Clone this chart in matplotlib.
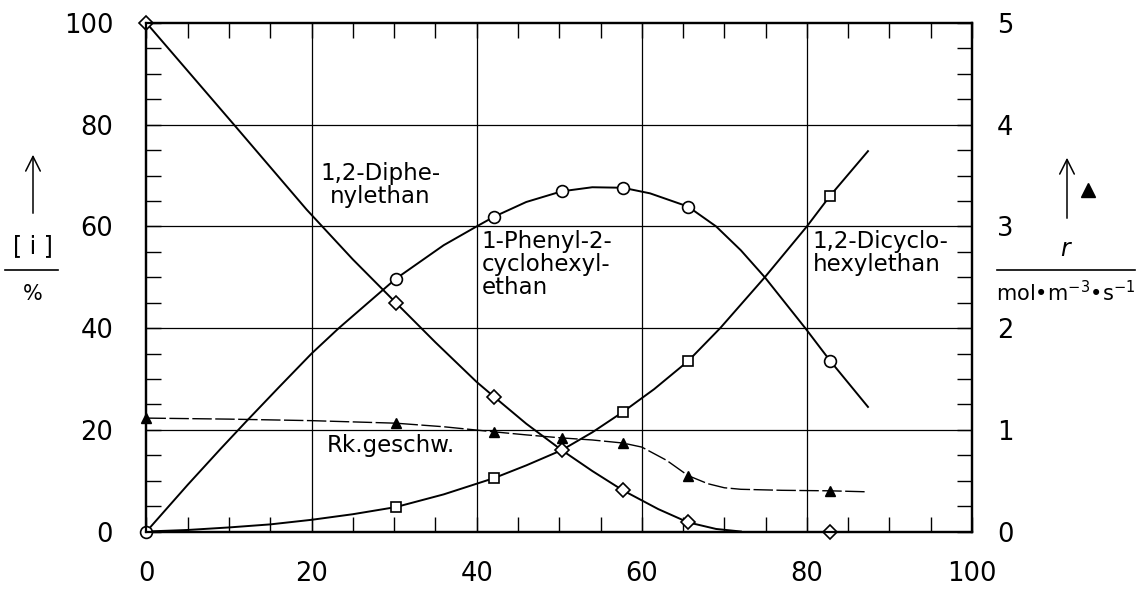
import matplotlib
matplotlib.use("Agg")
import matplotlib.pyplot as plt
from matplotlib.lines import Line2D
from matplotlib.patches import FancyArrowPatch
from matplotlib.ticker import MultipleLocator

# --- Messpunkte ---
umsatz = [0, 30.2, 42.1, 50.3, 57.7, 65.6, 82.8]

diphenyl = [100, 45.0, 26.5, 16.0, 8.1, 1.8, 0]              # Rauten
phenyl_cyclohexyl = [0, 49.7, 61.9, 66.9, 67.6, 63.9, 33.6]  # Kreise
rk_geschw = [1.115, 1.065, 0.98, 0.92, 0.87, 0.545, 0.40]    # Dreiecke (rechte Achse)

umsatz_quadrat = [30.2, 42.1, 57.7, 65.6, 82.8]
dicyclohexyl = [4.8, 10.5, 23.5, 33.5, 66.0]                 # Quadrate

kurve_diphenyl_x = [0, 10.6, 19.4, 25, 30.2, 35, 40, 42.1, 46, 50.3, 54, 57.7, 62, 65.6, 69, 72]
kurve_diphenyl_y = [100, 80, 63.3, 53.5, 45.0, 37.2, 29.4, 26.5, 21.2, 16.0, 11.9, 8.1, 4.4, 1.8, 0.5, 0]

kurve_phenyl_x = [0, 5, 9, 12, 16, 20, 23.3, 30.2, 36, 40, 42.1, 46, 50.3, 54, 57.7, 61, 65.6, 69.0, 72, 74.9, 79.8, 82.8, 87.4]
kurve_phenyl_y = [0, 9.2, 16.3, 21.5, 28.3, 35.0, 40, 49.7, 56.3, 60, 61.9, 64.8, 66.9, 67.7, 67.6, 66.5, 63.9, 60, 55.3, 50, 40, 33.6, 24.5]

kurve_dicyclo_x = [0, 5, 10, 15, 20, 25, 30.2, 36, 42.1, 46, 50.3, 54, 57.7, 61.5, 65.6, 69.5, 74.9, 80, 82.8, 87.4]
kurve_dicyclo_y = [0, 0.3, 0.8, 1.4, 2.3, 3.4, 4.8, 7.3, 10.5, 13.0, 16.0, 19.5, 23.5, 28.0, 33.5, 40, 50, 60, 66.0, 74.8]

kurve_rk_x = [0, 10, 20, 30.2, 36, 42.1, 46, 50.3, 54, 57.7, 60, 63, 65.6, 68, 70, 72, 77, 82.8, 87.4]
kurve_rk_y = [1.115, 1.105, 1.09, 1.065, 1.03, 0.98, 0.95, 0.92, 0.90, 0.87, 0.83, 0.70, 0.55, 0.47, 0.43, 0.415, 0.405, 0.40, 0.39]

x_ticks = [0, 20, 40, 60, 80, 100]
y_ticks = [0, 20, 40, 60, 80, 100]
r_ticks = [0, 1, 2, 3, 4, 5]

W, H = 1144, 589


def fx(px):
    return px / W


def fy(py):
    return 1 - py / H


def main():
    plt.rcParams['font.family'] = ['DejaVu Sans']
    fig = plt.figure(figsize=(W / 100, H / 100), dpi=100)
    ax = fig.add_axes([fx(146.5), fy(531.5), (972 - 146.5) / W, (531.5 - 23) / H])
    ax2 = ax.twinx()

    # Achsen, Gitter, Ticks
    ax.set_xlim(0, 100)
    ax.set_ylim(0, 100)
    ax2.set_ylim(0, 5)
    ax.set_xticks(x_ticks)
    ax.set_yticks(y_ticks)
    ax2.set_yticks(r_ticks)
    ax.xaxis.set_minor_locator(MultipleLocator(5))
    ax.yaxis.set_minor_locator(MultipleLocator(5))
    ax2.yaxis.set_minor_locator(MultipleLocator(0.25))
    for g in [20, 40, 60, 80]:
        ax.axvline(g, color='black', lw=0.9, zorder=1)
        ax.axhline(g, color='black', lw=0.9, zorder=1)

    ax.tick_params(axis='both', which='both', direction='in', top=True, right=False,
                   length=11, width=1.0, labelsize=18.5)
    ax.tick_params(axis='y', which='major', pad=24)
    ax.tick_params(axis='x', which='major', pad=21)
    ax2.tick_params(axis='y', which='both', direction='in', length=11, width=1.0,
                    labelsize=18.5, pad=18)
    for a in (ax, ax2):
        for s in a.spines.values():
            s.set_linewidth(1.6)

    # Kurven
    ax.plot(kurve_diphenyl_x, kurve_diphenyl_y, color='black', lw=1.4, zorder=3)
    ax.plot(kurve_phenyl_x, kurve_phenyl_y, color='black', lw=1.4, zorder=3)
    ax.plot(kurve_dicyclo_x, kurve_dicyclo_y, color='black', lw=1.4, zorder=3)
    ax2.plot(kurve_rk_x, kurve_rk_y, color='black', lw=1.0, linestyle=(0, (14, 2.5)), zorder=3)

    # Messpunkte
    ax.plot(umsatz_quadrat, dicyclohexyl, 's', ms=6.5, mfc='white', mec='black', mew=1.2,
            zorder=4, clip_on=False)
    ax.plot(umsatz, phenyl_cyclohexyl, 'o', ms=8.5, mfc='white', mec='black', mew=1.2,
            zorder=5, clip_on=False)
    ax.plot(umsatz, diphenyl, 'D', ms=7.3, mfc='white', mec='black', mew=1.2,
            zorder=6, clip_on=False)
    ax2.plot(umsatz, rk_geschw, '^', ms=6.5, color='black', zorder=6, clip_on=False)

    # Beschriftungen der Kurven
    ax.text(28.3, 72.6, "1,2-Diphe-\nnylethan", ha='center', va='top', multialignment='center',
            fontsize=16.5, linespacing=1.0, zorder=7)
    ax.text(40.6, 59.2, "1-Phenyl-2-\ncyclohexyl-\nethan", ha='left', va='top',
            fontsize=16.5, linespacing=1.0, zorder=7)
    ax.text(80.7, 59.2, "1,2-Dicyclo-\nhexylethan", ha='left', va='top',
            fontsize=16.5, linespacing=1.0, zorder=7)
    ax.text(21.8, 15.7, "Rk.geschw.", ha='left', va='baseline', fontsize=16.5, zorder=7)

    # linke Achsenbeschriftung: Pfeil, [i] / %
    fig.add_artist(FancyArrowPatch((fx(33), fy(216)), (fx(33), fy(152)), transform=fig.transFigure,
                                   arrowstyle='->,head_length=0.7,head_width=0.35', lw=1.1,
                                   color='black', mutation_scale=15))
    fig.text(fx(33), fy(246), "[ i ]", ha='center', va='center', fontsize=17)
    fig.add_artist(Line2D([fx(5), fx(58)], [fy(270), fy(270)], transform=fig.transFigure,
                          color='black', lw=1.2))
    fig.text(fx(33), fy(294), "%", ha='center', va='center', fontsize=15)

    # rechte Achsenbeschriftung: Pfeil, Dreieck, r / mol m-3 s-1
    fig.add_artist(FancyArrowPatch((fx(1067), fy(221)), (fx(1067), fy(155)), transform=fig.transFigure,
                                   arrowstyle='->,head_length=0.7,head_width=0.35', lw=1.1,
                                   color='black', mutation_scale=15))
    fig.add_artist(Line2D([fx(1088)], [fy(190)], marker='^', ms=10, color='black',
                          transform=fig.transFigure))
    fig.text(fx(1066), fy(249), "$r$", ha='center', va='center', fontsize=17)
    fig.add_artist(Line2D([fx(997), fx(1135)], [fy(270), fy(270)], transform=fig.transFigure,
                          color='black', lw=1.2))
    fig.text(fx(1066), fy(293), "mol\u2022m$^{-3}$\u2022s$^{-1}$", ha='center', va='center',
             fontsize=15)

    fig.savefig("out.png", dpi=100)


if __name__ == "__main__":
    main()
